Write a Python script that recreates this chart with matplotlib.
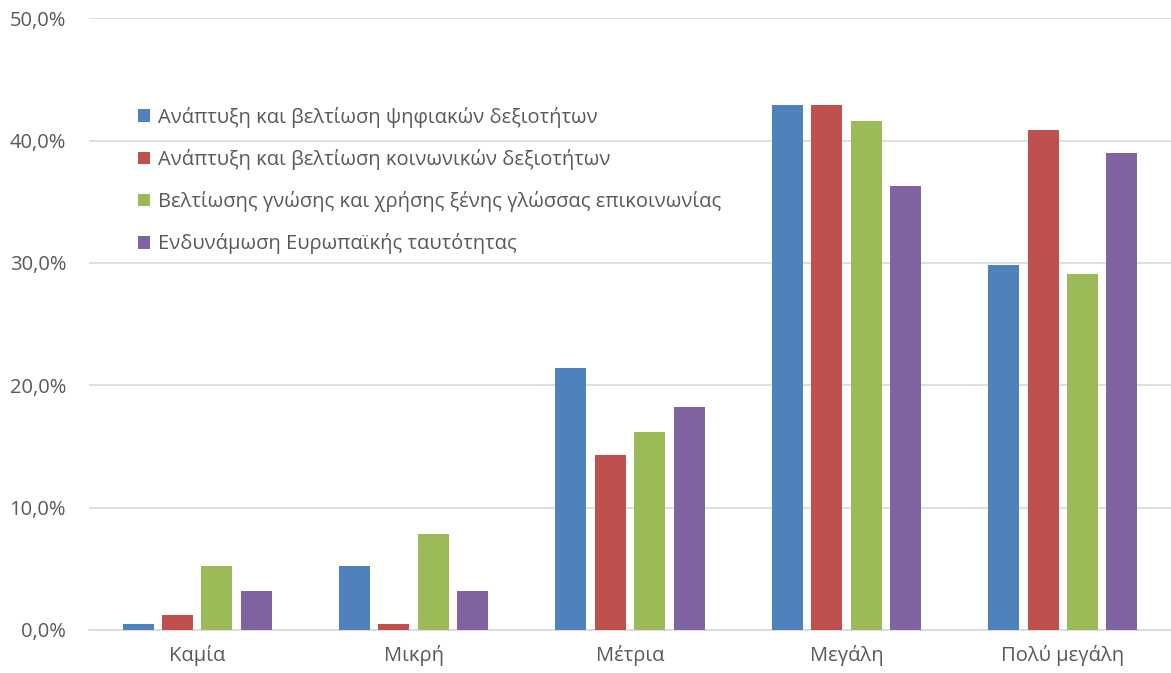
import numpy as np
import matplotlib.pyplot as plt
from matplotlib.ticker import FuncFormatter

# categories and series (percent)
categories = ["Καμία", "Μικρή", "Μέτρια", "Μεγάλη", "Πολύ μεγάλη"]
series_names = [
	"Ανάπτυξη και βελτίωση ψηφιακών δεξιοτήτων",
	"Ανάπτυξη και βελτίωση κοινωνικών δεξιοτήτων",
	"Βελτίωσης γνώσης και χρήσης ξένης γλώσσας επικοινωνίας",
	"Ενδυνάμωση Ευρωπαϊκής ταυτότητας",
]
digital = [0.5, 5.2, 21.4, 42.9, 29.8]
social = [1.2, 0.5, 14.3, 42.9, 40.9]
language = [5.2, 7.8, 16.2, 41.6, 29.1]
european = [3.2, 3.2, 18.2, 36.3, 39.0]

colors = ["#4F81BD", "#C0504D", "#9BBB59", "#8064A2"]
text_color = "#595959"
grid_color = "#D9D9D9"

plt.rcParams['font.family'] = ['Open Sans', 'DejaVu Sans']

fig = plt.figure(figsize=(11.71, 6.73), dpi=100)
ax = fig.add_axes([0.076, 0.064, 0.924, 0.909])

x = np.arange(len(categories))
width = 0.143
step = 0.182
all_series = [digital, social, language, european]
for i, vals in enumerate(all_series):
	offset = (i - 1.5) * step
	ax.bar(x + offset, vals, width, color=colors[i], label=series_names[i], zorder=3)

ax.set_xlim(-0.5, len(categories) - 0.5)
ax.set_ylim(0, 50)
ax.set_yticks(np.arange(0, 51, 10))
ax.yaxis.set_major_formatter(FuncFormatter(lambda v, p: "{:.1f}%".format(v).replace(".", ",")))
ax.set_xticks(x)
ax.set_xticklabels(categories)
ax.tick_params(axis='both', length=0, colors=text_color, labelsize=14.5)
ax.tick_params(axis='x', pad=11)
ax.tick_params(axis='y', pad=16.5)
ax.grid(axis='y', color=grid_color, linewidth=1.2, zorder=0)
for side in ["top", "right", "left"]:
	ax.spines[side].set_visible(False)
ax.spines["bottom"].set_color(grid_color)
ax.spines["bottom"].set_linewidth(1.2)

leg = ax.legend(loc="upper left", bbox_to_anchor=(0.045, 0.855), frameon=False,
	fontsize=14.5, handlelength=0.6, handleheight=0.6, handletextpad=0.4,
	labelspacing=1.05, borderaxespad=0, borderpad=0)
for t in leg.get_texts():
	t.set_color(text_color)

fig.savefig("out.png", dpi=100)
